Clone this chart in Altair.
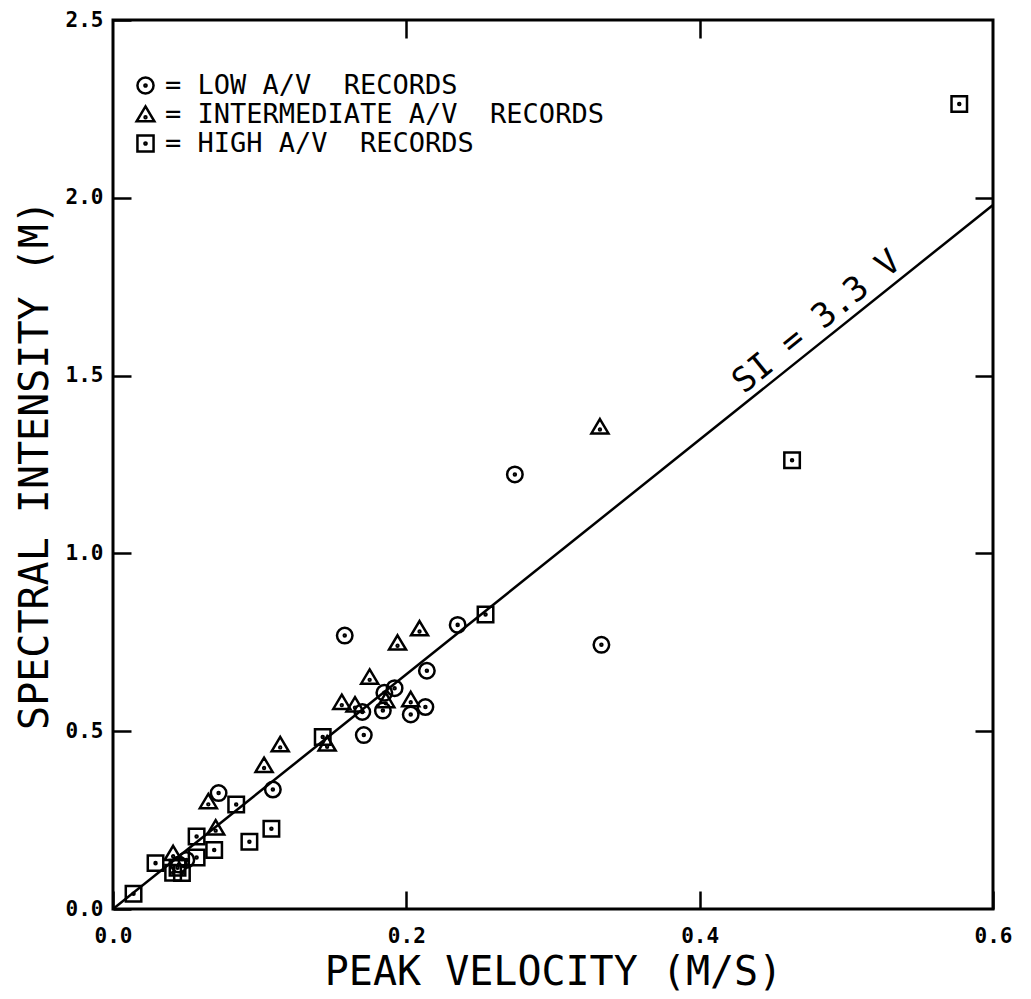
import altair as alt
import pandas as pd

# ---- data ----
low_x = [0.274, 0.333, 0.235, 0.214, 0.158, 0.192, 0.185, 0.184, 0.203, 0.213, 0.170, 0.171, 0.109, 0.072, 0.050, 0.045]
low_y = [1.222, 0.743, 0.799, 0.670, 0.769, 0.621, 0.608, 0.558, 0.547, 0.568, 0.554, 0.489, 0.336, 0.326, 0.138, 0.125]
mid_x = [0.332, 0.209, 0.194, 0.175, 0.186, 0.203, 0.156, 0.165, 0.146, 0.114, 0.103, 0.065, 0.070, 0.041]
mid_y = [1.356, 0.788, 0.748, 0.652, 0.586, 0.589, 0.581, 0.574, 0.464, 0.462, 0.404, 0.302, 0.228, 0.156]
high_x = [0.254, 0.463, 0.577, 0.143, 0.084, 0.108, 0.093, 0.057, 0.069, 0.057, 0.029, 0.044, 0.047, 0.041, 0.014]
high_y = [0.828, 1.262, 2.264, 0.484, 0.294, 0.226, 0.189, 0.204, 0.166, 0.145, 0.129, 0.116, 0.101, 0.102, 0.043]

categories = ["LOW A/V\u00a0 RECORDS", "INTERMEDIATE A/V\u00a0 RECORDS", "HIGH A/V\u00a0 RECORDS"]

fit_x = [0.0, 0.6]
fit_y = [0.0, 1.98]
fit_label = ["SI = 3.3 V"]
fit_label_x = [0.48]
fit_label_y = [1.65]

x_ticks = [0.0, 0.2, 0.4, 0.6]
y_ticks = [0.0, 0.5, 1.0, 1.5, 2.0, 2.5]

# ---- tables ----
rows = []
for cat, xs_, ys_ in zip(categories, [low_x, mid_x, high_x], [low_y, mid_y, high_y]):
    for a, b in zip(xs_, ys_):
        rows.append({"v": a, "si": b, "cat": cat})
pts = pd.DataFrame(rows)
fit = pd.DataFrame({"v": fit_x, "si": fit_y})
lab = pd.DataFrame({"v": fit_label_x, "si": fit_label_y, "t": fit_label})

MONO = "DejaVu Sans Mono"

circ = "M1,0A1,1,0,1,1,-1,0A1,1,0,1,1,1,0Z M0.13,0A0.13,0.13,0,1,1,-0.13,0A0.13,0.13,0,1,1,0.13,0Z"
tri = "M0,-1L1.1,0.85L-1.1,0.85Z M0.12,0.35A0.12,0.12,0,1,1,-0.12,0.35A0.12,0.12,0,1,1,0.12,0.35Z"
sq = "M-1,-1L1,-1L1,1L-1,1Z M0.13,0A0.13,0.13,0,1,1,-0.13,0A0.13,0.13,0,1,1,0.13,0Z"

xs = alt.Scale(domain=[0, 0.6], nice=False, zero=False)
ys = alt.Scale(domain=[0, 2.5], nice=False, zero=False)
inward = alt.ExprRef(expr="-18")

common_axis = dict(domain=False, grid=False, tickColor="black", tickWidth=2.5,
                   tickSize=inward, labelFlush=False, labelOverlap=False)

x_bottom = alt.Axis(orient="bottom", values=x_ticks, format=".1f", labelPadding=34,
                    labelFont=MONO, labelFontSize=21, labelFontWeight="bold", labelColor="black",
                    title="PEAK VELOCITY (M/S)", titleFont=MONO, titleFontSize=40,
                    titleFontWeight="normal", titleColor="black", titlePadding=6, **common_axis)
y_left = alt.Axis(orient="left", values=y_ticks, format=".1f", labelPadding=28,
                  labelFont=MONO, labelFontSize=21, labelFontWeight="bold", labelColor="black",
                  title="SPECTRAL INTENSITY (M)", titleFont=MONO, titleFontSize=40,
                  titleFontWeight="normal", titleColor="black", titlePadding=10, **common_axis)
x_top = alt.Axis(orient="top", values=[0.2, 0.4], labels=False, title=None, **common_axis)
y_right = alt.Axis(orient="right", values=[0.5, 1.0, 1.5, 2.0], labels=False, title=None, **common_axis)

line = alt.Chart(fit).mark_line(color="black", strokeWidth=2.5).encode(
    x=alt.X("v:Q", scale=xs, axis=x_top),
    y=alt.Y("si:Q", scale=ys, axis=y_right),
)

points = alt.Chart(pts).mark_point(filled=False, color="black", strokeWidth=2.5, size=240, opacity=1).encode(
    x=alt.X("v:Q", scale=xs, axis=x_bottom),
    y=alt.Y("si:Q", scale=ys, axis=y_left),
    shape=alt.Shape("cat:N", scale=alt.Scale(domain=categories, range=[circ, tri, sq]),
                    legend=alt.Legend(orient="none", legendX=19, legendY=52, title=None,
                                      labelFont=MONO, labelFontSize=27, labelColor="black",
                                      labelExpr="'= ' + datum.label", labelOffset=6,
                                      symbolSize=260, symbolStrokeWidth=2.5,
                                      symbolStrokeColor="black", symbolFillColor="transparent",
                                      rowPadding=1, padding=0, labelLimit=0)),
)

label = alt.Chart(lab).mark_text(angle=321, font=MONO, fontSize=34, color="black",
                                 align="center", baseline="middle").encode(
    x=alt.X("v:Q", scale=xs, axis=None),
    y=alt.Y("si:Q", scale=ys, axis=None),
    text="t:N",
)

chart = (
    alt.layer(line, points, label)
    .resolve_axis(x="independent", y="independent")
    .properties(width=880, height=889, autosize=alt.AutoSizeParams(type="none"),
                padding={"left": 113, "top": 20, "right": 38, "bottom": 90},
                background="white")
    .configure_view(stroke="black", strokeWidth=3)
)

chart.save("out.html", embed_options={"renderer": "svg", "actions": False})
